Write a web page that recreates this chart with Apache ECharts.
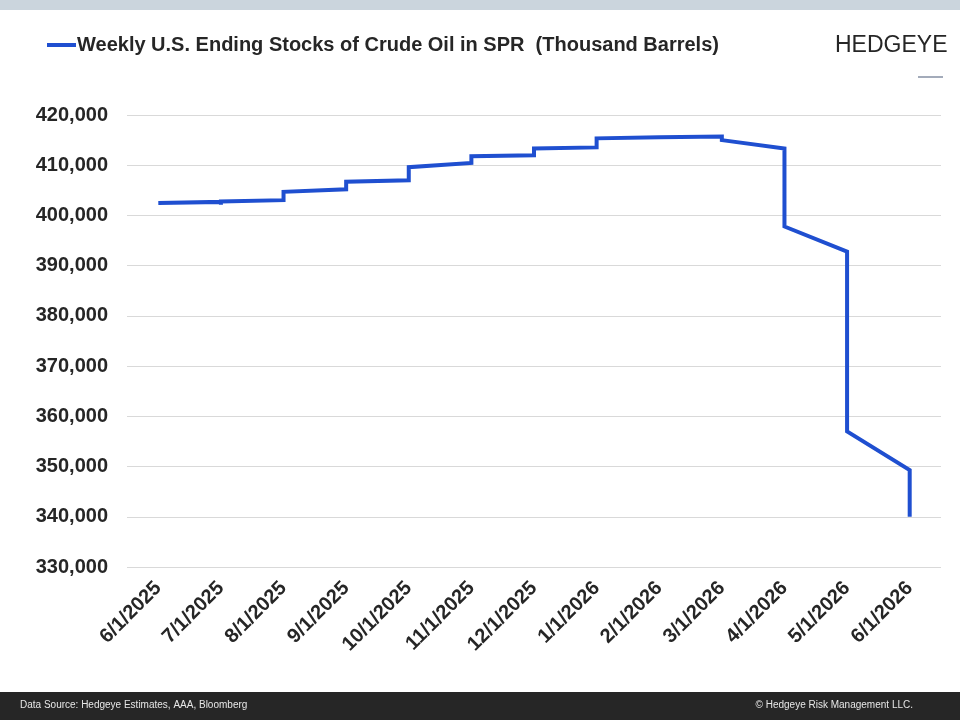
<!DOCTYPE html>
<html>
<head>
<meta charset="utf-8">
<script src="https://cdn.jsdelivr.net/npm/echarts@6/dist/echarts.min.js"></script>
<style>
  html, body { margin: 0; padding: 0; background: #ffffff; }
  #chart { width: 960px; height: 720px; }
</style>
</head>
<body>
<div id="chart"></div>
<script>
// Month labels on the x axis (Excel-style monthly base unit)
const monthLabels = ['6/1/2025','7/1/2025','8/1/2025','9/1/2025','10/1/2025','11/1/2025','12/1/2025',
                     '1/1/2026','2/1/2026','3/1/2026','4/1/2026','5/1/2026','6/1/2026'];
// Weekly readings: month bucket index of each reading and its value (thousand barrels)
const stockMonth  = [0, 0,
                     1, 1, 1,
                     2, 2,
                     3, 3,
                     4, 4,
                     5, 5,
                     6, 6,
                     7, 7,
                     8, 8,
                     9, 9,
                     10, 10,
                     11, 11,
                     12, 12];
const stockValues = [402500, 402550,
                     402700, 402150, 402800,
                     403050, 404700,
                     405200, 406700,
                     407000, 409600,
                     410450, 411800,
                     412000, 413350,
                     413550, 415350,
                     415550, 415700,
                     415700, 415000,
                     413350, 397800,
                     392800, 357000,
                     349300, 340000];
const seriesName = 'Weekly U.S. Ending Stocks of Crude Oil in SPR  (Thousand Barrels)';
const yTicks = { min: 330000, max: 420000, step: 10000 };

const seriesData = stockValues.map((v, i) => [stockMonth[i], v]);

const chart = echarts.init(document.getElementById('chart'), null, { renderer: 'canvas' });
const FONT = "'Liberation Sans', Arial, sans-serif";

chart.setOption({
  backgroundColor: '#ffffff',
  animation: false,
  textStyle: { fontFamily: FONT },
  legend: {
    left: 42, top: 30,
    itemWidth: 29, itemHeight: 4,
    icon: 'rect',
    textStyle: { fontFamily: FONT, fontSize: 20, fontWeight: 'bold', color: '#262626', padding: [0, 0, 0, -4] },
    data: [seriesName]
  },
  grid: { left: 127, right: 19, top: 115, bottom: 153, containLabel: false },
  xAxis: [
    {
      type: 'category',
      data: monthLabels,
      boundaryGap: true,
      axisLine: { show: false },
      axisTick: { show: false },
      axisLabel: {
        rotate: 45, margin: 18,
        fontFamily: FONT, fontSize: 20, fontWeight: 'bold', color: '#262626',
        interval: 0
      },
      splitLine: { show: false }
    },
    {
      type: 'value',
      min: -0.5, max: 12.5,
      show: false
    }
  ],
  yAxis: {
    type: 'value',
    min: yTicks.min, max: yTicks.max, interval: yTicks.step,
    axisLine: { show: false },
    axisTick: { show: false },
    axisLabel: {
      margin: 19,
      fontFamily: FONT, fontSize: 20, fontWeight: 'bold', color: '#262626',
      formatter: v => v.toLocaleString('en-US')
    },
    splitLine: { lineStyle: { color: '#d9d9d9', width: 1 } }
  },
  series: [{
    name: seriesName,
    type: 'line',
    xAxisIndex: 1,
    data: seriesData,
    showSymbol: false,
    symbol: 'none',
    color: '#1F4FD0',
    lineStyle: { width: 4, color: '#1F4FD0', join: 'miter' }
  }],
  graphic: [
    { type: 'rect', left: 0, top: 0, shape: { width: 960, height: 10 }, style: { fill: '#CBD5DD' }, silent: true },
    { type: 'text', left: 835, top: 34, style: { text: 'HEDGEYE', fontFamily: FONT, fontSize: 23, fontWeight: 'normal', fill: '#262626' } },
    { type: 'rect', left: 918, top: 76, shape: { width: 25, height: 2 }, style: { fill: '#A3ABBA' } },
    { type: 'rect', left: 0, top: 692, shape: { width: 960, height: 28 }, style: { fill: '#262626' } },
    { type: 'text', left: 20, top: 700, style: { text: 'Data Source: Hedgeye Estimates, AAA, Bloomberg', fontFamily: FONT, fontSize: 10, fill: '#e6e6e6' } },
    { type: 'text', right: 47, top: 700, style: { text: '\u00A9 Hedgeye Risk Management LLC.', fontFamily: FONT, fontSize: 10, fill: '#e6e6e6' } }
  ]
});
</script>
</body>
</html>
